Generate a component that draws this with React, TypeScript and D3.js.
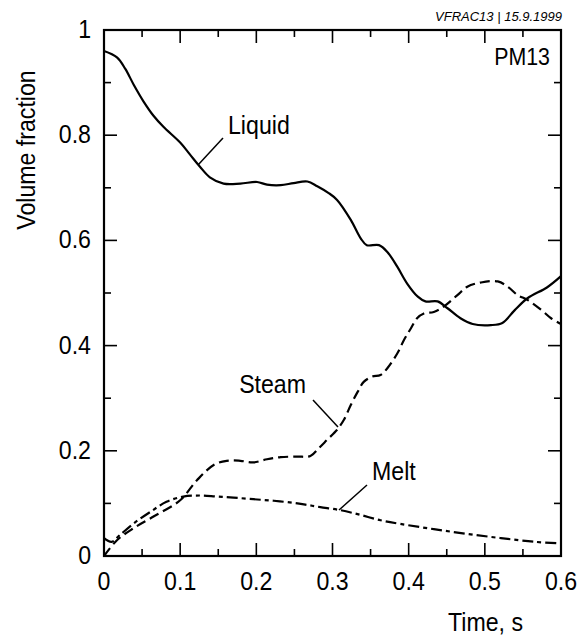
import React from "react";
import * as d3 from "d3";

const liquidT = [0, 0.017, 0.028, 0.039, 0.052, 0.065, 0.078, 0.1, 0.113, 0.126, 0.139, 0.157, 0.179, 0.201, 0.214, 0.232, 0.249, 0.267, 0.28, 0.295, 0.306, 0.324, 0.337, 0.345, 0.361, 0.372, 0.385, 0.398, 0.412, 0.422, 0.438, 0.451, 0.468, 0.484, 0.508, 0.523, 0.539, 0.556, 0.582, 0.6];
const liquidV = [0.96, 0.948, 0.926, 0.896, 0.864, 0.837, 0.816, 0.786, 0.763, 0.74, 0.72, 0.708, 0.708, 0.711, 0.706, 0.705, 0.709, 0.712, 0.703, 0.69, 0.677, 0.639, 0.604, 0.591, 0.591, 0.578, 0.55, 0.518, 0.493, 0.484, 0.484, 0.471, 0.452, 0.441, 0.439, 0.443, 0.467, 0.49, 0.511, 0.532];

const steamT = [0, 0.017, 0.039, 0.065, 0.1, 0.122, 0.144, 0.161, 0.179, 0.196, 0.214, 0.232, 0.254, 0.271, 0.282, 0.293, 0.306, 0.315, 0.324, 0.333, 0.341, 0.352, 0.363, 0.372, 0.385, 0.394, 0.403, 0.411, 0.42, 0.433, 0.446, 0.464, 0.477, 0.495, 0.517, 0.53, 0.543, 0.556, 0.574, 0.587, 0.6];
const steamV = [0, 0.03, 0.053, 0.075, 0.106, 0.144, 0.173, 0.181, 0.181, 0.178, 0.184, 0.188, 0.189, 0.19, 0.205, 0.221, 0.24, 0.259, 0.287, 0.312, 0.331, 0.341, 0.344, 0.357, 0.385, 0.411, 0.433, 0.452, 0.461, 0.464, 0.474, 0.496, 0.512, 0.52, 0.522, 0.512, 0.496, 0.487, 0.468, 0.452, 0.441];

const meltT = [0, 0.01, 0.021, 0.039, 0.061, 0.082, 0.104, 0.126, 0.148, 0.17, 0.196, 0.223, 0.249, 0.267, 0.284, 0.311, 0.337, 0.363, 0.389, 0.433, 0.477, 0.521, 0.565, 0.6];
const meltV = [0.034, 0.027, 0.04, 0.062, 0.084, 0.103, 0.113, 0.115, 0.113, 0.111, 0.108, 0.105, 0.101, 0.097, 0.093, 0.087, 0.078, 0.068, 0.061, 0.051, 0.042, 0.034, 0.027, 0.024];

const xTickLabels = ["0", "0.1", "0.2", "0.3", "0.4", "0.5", "0.6"];
const yTickLabels = ["0", "0.2", "0.4", "0.6", "0.8", "1"];

const FONT = "'Liberation Sans', Arial, sans-serif";
const SX = 0.89;

function T({ x, y, s, anchor = "start", size = 26, rot = 0 }: { x: number; y: number; s: string; anchor?: string; size?: number; rot?: number }) {
  return (
    <text transform={`translate(${x},${y}) rotate(${rot}) scale(${SX},1)`} fontSize={size} textAnchor={anchor as any}>
      {s}
    </text>
  );
}

export default function App() {
  const left = 104, right = 561, top = 30, bottom = 556;
  const x = d3.scaleLinear().domain([0, 0.6]).range([left, right]);
  const y = d3.scaleLinear().domain([0, 1]).range([bottom, top]);
  const line = d3
    .line<[number, number]>()
    .x((d) => x(d[0]))
    .y((d) => y(d[1]))
    .curve(d3.curveCatmullRom.alpha(0.5));
  const zip = (a: number[], b: number[]) => a.map((t, i) => [t, b[i]] as [number, number]);

  const xMajor = d3.range(0, 0.6001, 0.1);
  const xMinor = d3.range(0.05, 0.6, 0.1);
  const yMajor = d3.range(0, 1.0001, 0.2);
  const yMinor = d3.range(0.1, 1, 0.2);
  const maj = 13, mnr = 7;

  return (
    <svg width={580} height={637} style={{ position: "absolute", left: 0, top: 0, background: "#fff" }}>
      <rect x={0} y={0} width={580} height={637} fill="#fff" />
      <g stroke="#000" strokeWidth={1.6}>
        {xMajor.map((t, i) => (
          <g key={"xm" + i}>
            <line x1={x(t)} x2={x(t)} y1={bottom} y2={bottom - maj} />
            <line x1={x(t)} x2={x(t)} y1={top} y2={top + maj} />
          </g>
        ))}
        {xMinor.map((t, i) => (
          <g key={"xn" + i}>
            <line x1={x(t)} x2={x(t)} y1={bottom} y2={bottom - mnr} />
            <line x1={x(t)} x2={x(t)} y1={top} y2={top + mnr} />
          </g>
        ))}
        {yMajor.map((v, i) => (
          <g key={"ym" + i}>
            <line x1={left} x2={left + maj} y1={y(v)} y2={y(v)} />
            <line x1={right} x2={right - maj} y1={y(v)} y2={y(v)} />
          </g>
        ))}
        {yMinor.map((v, i) => (
          <g key={"yn" + i}>
            <line x1={left} x2={left + mnr} y1={y(v)} y2={y(v)} />
            <line x1={right} x2={right - mnr} y1={y(v)} y2={y(v)} />
          </g>
        ))}
      </g>
      <rect x={left} y={top} width={right - left} height={bottom - top} fill="none" stroke="#000" strokeWidth={2.2} />

      <path d={line(zip(liquidT, liquidV)) || ""} fill="none" stroke="#000" strokeWidth={2.2} />
      <path d={line(zip(steamT, steamV)) || ""} fill="none" stroke="#000" strokeWidth={2.2} strokeDasharray="10,5" />
      <path d={line(zip(meltT, meltV)) || ""} fill="none" stroke="#000" strokeWidth={2.2} strokeDasharray="11,4,4,4" />

      <g stroke="#000" strokeWidth={1.5}>
        <line x1={223} y1={138} x2={198} y2={165} />
        <line x1={313} y1={400} x2={338} y2={427} />
        <line x1={367} y1={485} x2={339} y2={510} />
      </g>

      <g fontFamily={FONT} fill="#000">
        {xTickLabels.map((s, i) => (
          <T key={"xl" + i} x={x(i * 0.1)} y={590} s={s} anchor="middle" />
        ))}
        {yTickLabels.map((s, i) => (
          <T key={"yl" + i} x={91} y={y(i * 0.2) + 8} s={s} anchor="end" />
        ))}
        <T x={523} y={631} s="Time, s" anchor="end" />
        <T x={35} y={150} s="Volume fraction" anchor="middle" rot={-90} />
        <T x={228} y={134} s="Liquid" />
        <T x={306} y={393} s="Steam" anchor="end" />
        <T x={372} y={480} s="Melt" />
        <T x={550} y={65} s="PM13" anchor="end" size={24} />
        <text x={562} y={21} fontSize={13} fontStyle="italic" textAnchor="end">VFRAC13 | 15.9.1999</text>
      </g>
    </svg>
  );
}
